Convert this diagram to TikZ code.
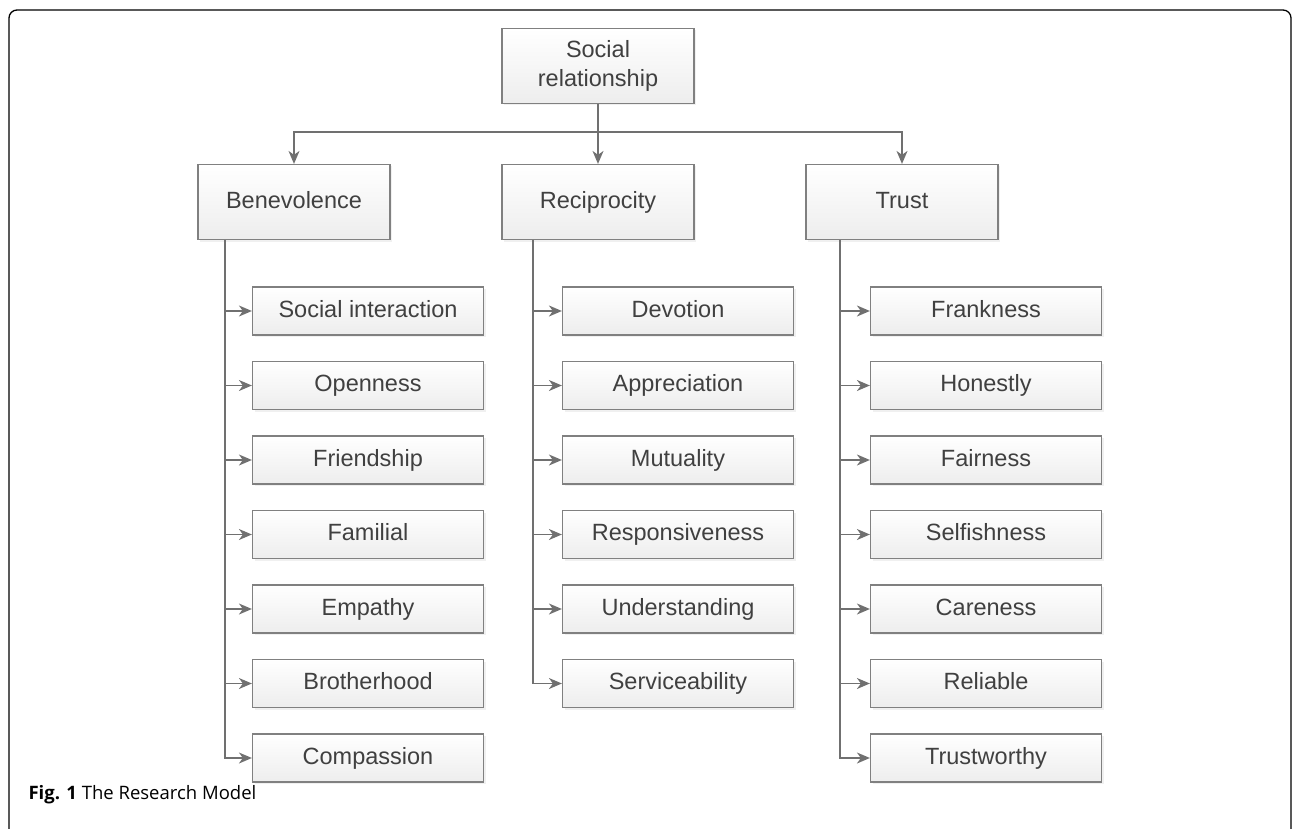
\documentclass[tikz,border=0pt]{standalone}
\usepackage{fontspec}
\setmainfont{Liberation Sans}
\newfontfamily\capfont{Open Sans}
\usepackage{tikz}
\usetikzlibrary{positioning}
\usetikzlibrary{arrows.meta}
\usetikzlibrary{shadows}
\definecolor{boxline}{HTML}{808080}
\definecolor{boxtext}{HTML}{404040}
\definecolor{linkline}{HTML}{707070}

\begin{document}
\begin{tikzpicture}[x=1pt,y=-1pt,
    main node/.style={draw=boxline,line width=1.2pt,top color=white,bottom color=gray!14,
      text=boxtext,font=\fontsize{23.5}{29}\selectfont,align=center,
      text height=17pt,text depth=5pt,
      minimum width=192pt,minimum height=75pt,inner sep=0pt,
      drop shadow={opacity=0.12,shadow xshift=2pt,shadow yshift=-2pt}},
    sub node/.style={main node,minimum width=231pt,minimum height=48pt},
    link/.style={draw=linkline,line width=1.5pt,-{Stealth[length=13pt,width=11pt,inset=4pt]}},
    node distance=74.5pt]
    \useasboundingbox (0,0) rectangle (1292,829);

    % frame
    \draw[line width=1.3pt,rounded corners=8pt] (9,829) -- (9,10) -- (1291,10) -- (1291,829);

    \node[main node,text height=46pt] (social) at (598,66) {Social\\relationship};
    \node[main node] (benev) at (294,202) {Benevolence};
    \node[main node] (recip) at (598,202) {Reciprocity};
    \node[main node] (trust) at (902,202) {Trust};

    \draw[link] (social.south) -- ++(0,28) -| (benev.north);
    \draw[link] (social) -- (recip);
    \draw[link] (social.south) -- ++(0,28) -| (trust.north);

    % benevolence
    \node[sub node] (inter) at (368,311) {Social interaction};
    \node[sub node] (open) [below of=inter] {Openness};
    \node[sub node] (friend) [below of=open] {Friendship};
    \node[sub node] (famil) [below of=friend] {Familial};
    \node[sub node] (empath) [below of=famil] {Empathy};
    \node[sub node] (brother) [below of=empath] {Brotherhood};
    \node[sub node] (compas) [below of=brother] {Compassion};

    % reciprocity
    \node[sub node] (devot) at (678,311) {Devotion};
    \node[sub node] (apprec) [below of=devot] {Appreciation};
    \node[sub node] (mutual) [below of=apprec] {Mutuality};
    \node[sub node] (respon) [below of=mutual] {Responsiveness};
    \node[sub node] (under) [below of=respon] {Understanding};
    \node[sub node] (service) [below of=under] {Serviceability};

    % trust
    \node[sub node] (frank) at (986,311) {Frankness};
    \node[sub node] (honest) [below of=frank] {Honestly};
    \node[sub node] (fair) [below of=honest] {Fairness};
    \node[sub node] (selfish) [below of=fair] {Selfishness};
    \node[sub node] (care) [below of=selfish] {Careness};
    \node[sub node] (reliab) [below of=care] {Reliable};
    \node[sub node] (worthy) [below of=reliab] {Trustworthy};

    \foreach \c in {inter,open,friend,famil,empath,brother,compas}
        \draw[link] (benev.south -| \c.west) ++(-27,0) |- (\c.west);
    \foreach \c in {devot,apprec,mutual,respon,under,service}
        \draw[link] (recip.south -| \c.west) ++(-29,0) |- (\c.west);
    \foreach \c in {frank,honest,fair,selfish,care,reliab,worthy}
        \draw[link] (trust.south -| \c.west) ++(-30,0) |- (\c.west);

    \node[anchor=base west,font=\capfont\fontsize{18.5}{22}\selectfont] (cap) at (25,799)
        {\textbf{Fig. 1} The Research Model};
\end{tikzpicture}
\end{document}
